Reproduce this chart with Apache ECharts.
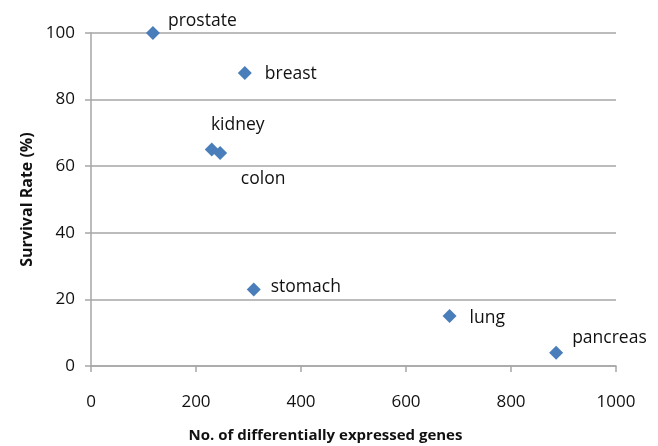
<!DOCTYPE html>
<html>
<head>
<meta charset="utf-8">
<script src="https://cdn.jsdelivr.net/npm/echarts@6/dist/echarts.min.js"></script>
<style>
  html, body { margin: 0; padding: 0; background: #fff; }
  #scatter { width: 658px; height: 446px; }
</style>
</head>
<body>
<div id="scatter"></div>
<script>
// values
const tissues = ['prostate', 'breast', 'kidney', 'colon', 'stomach', 'lung', 'pancreas'];
const genes = [118, 293, 230, 246, 310, 683, 886];
const survival = [100, 88, 65, 64, 23, 15, 4];
// where each label sits relative to its marker
const labelPos = ['right', 'right', 'top', 'bottom', 'right', 'right', 'right'];
const labelShift = [[3, -12], [8, 1], [26, -4], [43, 5], [5, -2], [8, 2], [4, -15]];

const chart = echarts.init(document.getElementById('scatter'));

const axisGrey = '#a6a6a6';
const textColor = '#111';
const font = '"Open Sans", "Liberation Sans", sans-serif';

const points = tissues.map((name, i) => ({
  name: name,
  value: [genes[i], survival[i]],
  label: {position: labelPos[i], offset: labelShift[i]}
}));

const option = {
  animation: false,
  grid: {left: 91, right: 42, top: 33, bottom: 80, outerBoundsMode: 'none'},
  xAxis: {
    type: 'value',
    min: 0, max: 1000, interval: 200,
    name: 'No. of differentially expressed genes',
    nameLocation: 'middle',
    nameGap: 62,
    nameTextStyle: {fontFamily: font, fontSize: 15, fontWeight: 'bold', color: textColor, padding: [0, 56, 0, 0]},
    axisLine: {lineStyle: {color: axisGrey, width: 1.5}},
    axisTick: {show: true, length: 6, lineStyle: {color: axisGrey, width: 1.5}},
    axisLabel: {fontFamily: font, fontSize: 17, color: textColor, margin: 28, formatter: v => String(v)},
    splitLine: {show: false}
  },
  yAxis: {
    type: 'value',
    min: 0, max: 100, interval: 20,
    name: 'Survival Rate (%)',
    nameLocation: 'middle',
    nameGap: 55,
    nameRotate: 90,
    nameTextStyle: {fontFamily: font, fontSize: 16, fontWeight: 'bold', color: textColor},
    axisLine: {show: true, lineStyle: {color: axisGrey, width: 1.5}},
    axisTick: {show: true, length: 6, lineStyle: {color: axisGrey, width: 1.5}},
    axisLabel: {fontFamily: font, fontSize: 17, color: textColor, margin: 16},
    splitLine: {lineStyle: {color: axisGrey, width: 1.5}}
  },
  series: [{
    type: 'scatter',
    symbol: 'diamond',
    symbolSize: 14,
    itemStyle: {color: '#4a7ebb', opacity: 1},
    label: {
      show: true,
      formatter: '{b}',
      fontFamily: font,
      fontSize: 17.5,
      color: textColor
    },
    data: points
  }]
};

chart.setOption(option);
</script>
</body>
</html>
